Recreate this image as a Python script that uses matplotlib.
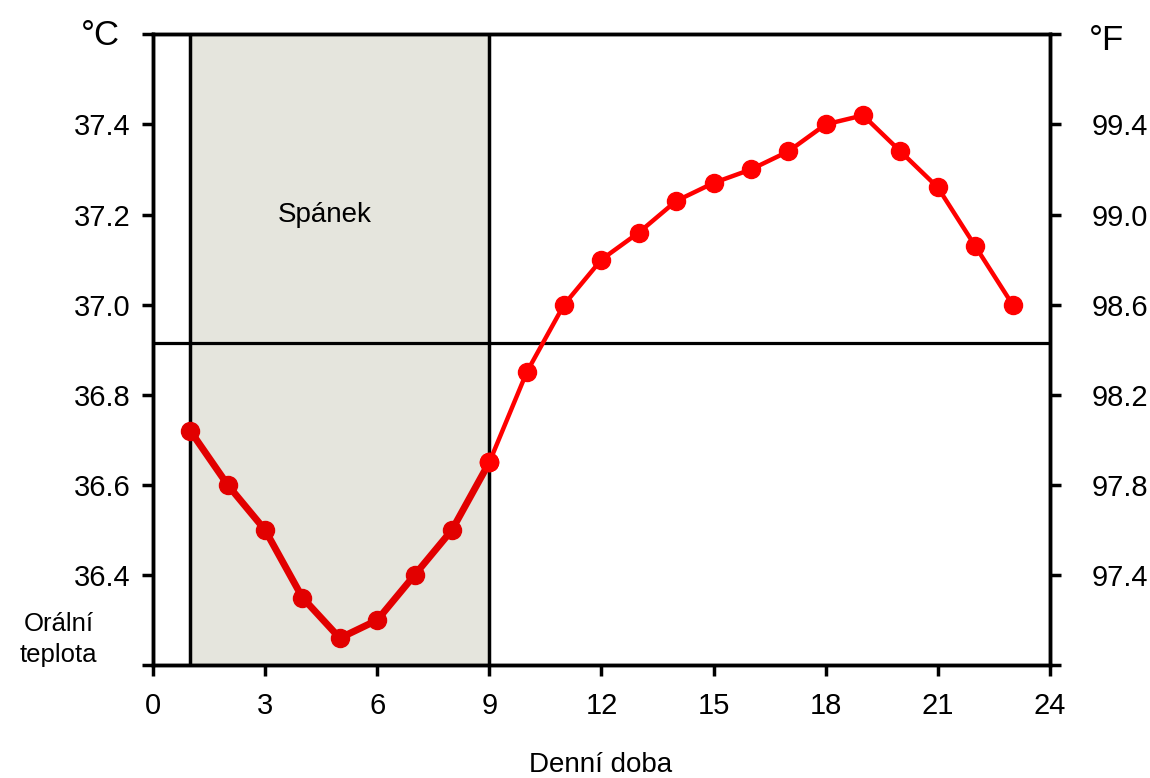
import matplotlib
matplotlib.use("Agg")
import matplotlib.pyplot as plt

plt.rcParams["font.family"] = ["Liberation Sans", "DejaVu Sans"]

# Hour of day and mean oral temperature (°C)
hours = [1, 2, 3, 4, 5, 6, 7, 8, 9, 10, 11, 12, 13, 14, 15, 16, 17, 18, 19, 20, 21, 22, 23]
temp_c = [36.72, 36.60, 36.50, 36.35, 36.26, 36.30, 36.40, 36.50, 36.65, 36.85, 37.00,
          37.10, 37.16, 37.23, 37.27, 37.30, 37.34, 37.40, 37.42, 37.34, 37.26, 37.13, 37.00]

sleep_start, sleep_end = 1, 9
reference_c = 36.915

x_ticks = [0, 3, 6, 9, 12, 15, 18, 21, 24]
c_ticks = [36.2, 36.4, 36.6, 36.8, 37.0, 37.2, 37.4, 37.6]
c_labels = ["", "36.4", "36.6", "36.8", "37.0", "37.2", "37.4", ""]
f_labels = ["", "97.4", "97.8", "98.2", "98.6", "99.0", "99.4", ""]

fig = plt.figure(figsize=(11.5, 7.78), dpi=100)
ax = fig.add_axes([0.133, 0.145, 0.780, 0.811])
ax.set_xlim(0, 24)
ax.set_ylim(36.2, 37.6)

# sleep period
ax.axvspan(sleep_start, sleep_end, color="#e5e5dd", zorder=0)
for xv in (sleep_start, sleep_end):
    ax.axvline(xv, color="black", lw=2.5, zorder=1)
ax.axhline(reference_c, color="black", lw=2.3, zorder=1)
ax.text(4.6, 37.2, "Spánek", fontsize=20, ha="center", va="center")

# temperature curve: thicker during sleep
n_sleep = hours.index(sleep_end) + 1
ax.plot(hours[:n_sleep], temp_c[:n_sleep], color="#e20000", lw=5,
        marker="o", ms=13, zorder=3, solid_joinstyle="round")
ax.plot(hours[n_sleep - 1:], temp_c[n_sleep - 1:], color="#ff0000", lw=3.2,
        marker="o", ms=13, zorder=3)
ax.plot(hours[n_sleep - 1:n_sleep], temp_c[n_sleep - 1:n_sleep], color="#ff0000",
        marker="o", ms=13, lw=0, zorder=4)

for s in ax.spines.values():
    s.set_linewidth(2.5)

ax.set_xticks(x_ticks)
ax.set_xticklabels([str(v) for v in x_ticks])
ax.set_yticks(c_ticks)
ax.set_yticklabels(c_labels)
ax.tick_params(axis="both", direction="out", length=8, width=2.5, labelsize=21)
ax.tick_params(axis="x", pad=11)
ax.tick_params(axis="y", pad=8)

ax2 = ax.twinx()
ax2.set_ylim(36.2, 37.6)
ax2.set_yticks(c_ticks)
ax2.set_yticklabels(f_labels)
ax2.tick_params(axis="y", direction="out", length=8, width=2.5, labelsize=21, pad=22)
for s in ax2.spines.values():
    s.set_linewidth(2.5)

fig.text(0.087, 0.955, "°C", fontsize=25, ha="center", va="center")
fig.text(0.962, 0.948, "°F", fontsize=25, ha="center", va="center")
fig.text(0.051, 0.178, "Orální\nteplota", fontsize=18.5, ha="center", va="center",
         linespacing=1.35)
fig.text(0.522, 0.017, "Denní doba", fontsize=20, ha="center", va="center")

fig.savefig("out.png", dpi=100)
